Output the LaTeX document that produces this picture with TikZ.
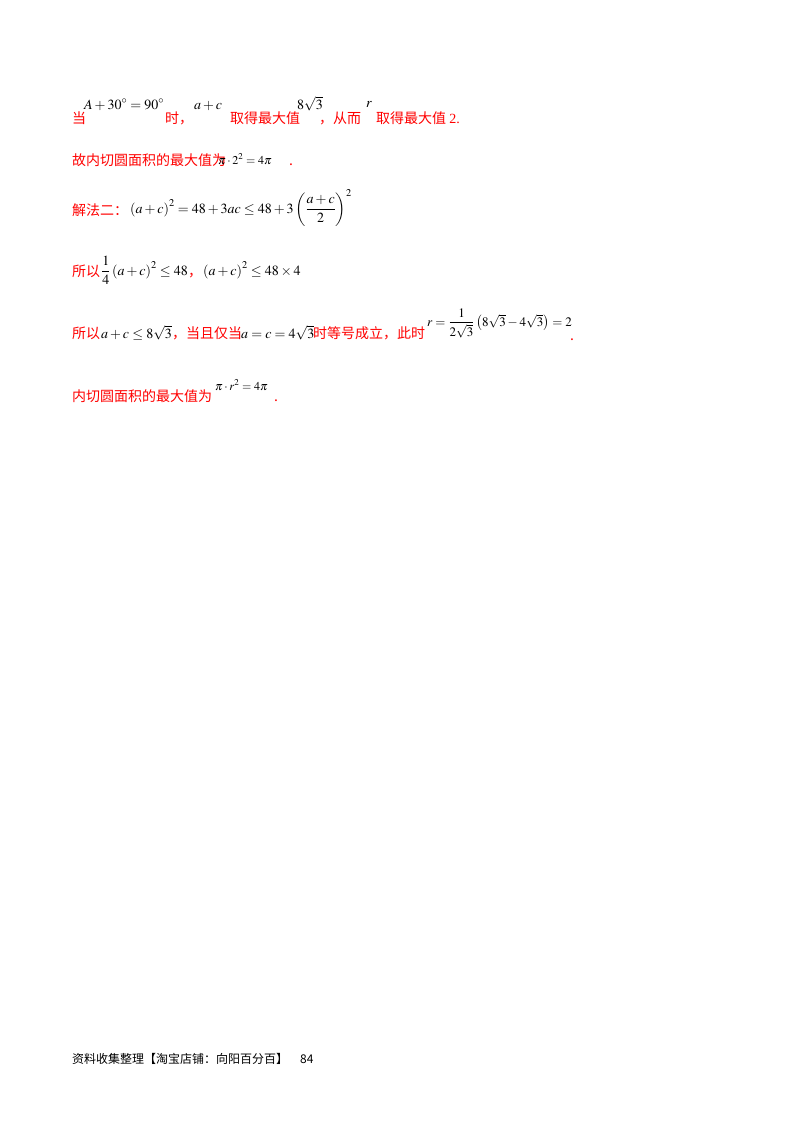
\documentclass[tikz,border=0pt]{standalone}
\usepackage{amsmath}
\usepackage{fontspec}
\usepackage{mathptmx}
\setmainfont{Liberation Serif}
\newfontfamily\cjk{Noto Sans CJK SC}
\definecolor{rd}{HTML}{FF0000}
\begin{document}
\begin{tikzpicture}[x=1pt,y=-1pt,
  t/.style={anchor=base west,inner sep=0pt,text=rd,font=\cjk\fontsize{14}{14}\selectfont},
  m/.style={anchor=base west,inner sep=0pt,font=\fontsize{14}{14}\selectfont}]
\useasboundingbox (0,0) rectangle (800,1132);
% line 1
\node[t] (a1) at (72,123) {当};
\node[m] (a2) at (84,109) {$A+30^\circ=90^\circ$};
\node[t] (a3) at (165,123) {时，};
\node[m] (a4) at (194,109) {$a+c$};
\node[t] (a5) at (230,123) {取得最大值};
\node[m] (a6) at (297,109) {$8\sqrt{3}$};
\node[t] (a7) at (319,123) {，从而};
\node[m] (a8) at (366,107) {$r$};
\node[t] (a9) at (376,123) {取得最大值 \fontspec{Liberation Serif}2.};
% line 2
\node[t] (b1) at (72,165) {故内切圆面积的最大值为};
\node[m] (b2) at (218,164) {\fontsize{12}{12}\selectfont$\pi\cdot2^2=4\pi$};
\node[t] (b3) at (289,165) {.};
% line 3
\node[t] (c1) at (72,215) {解法二：};
\node[m] (c2) at (130,213) {$\left(a+c\right)^2=48+3ac\le48+3\left(\dfrac{a+c}{2}\right)^2$};
% line 4
\node[t] (d1) at (72,276) {所以};
\node[m] (d2) at (101,275) {$\dfrac14\left(a+c\right)^2\le48$};
\node[t] (d3) at (188,276) {，};
\node[m] (d4) at (203,275) {$\left(a+c\right)^2\le48\times4$};
% line 5
\node[t] (e1) at (72,338) {所以};
\node[m] (e2) at (101,338) {$a+c\le8\sqrt3$};
\node[t] (e3) at (172,338) {，当且仅当};
\node[m] (e4) at (241,338) {$a=c=4\sqrt3$};
\node[t] (e5) at (313,338) {时等号成立，此时};
\node[m] (e6) at (427,326) {\fontsize{13}{13}\selectfont$r=\dfrac{1}{2\sqrt3}\left(8\sqrt3-4\sqrt3\right)=2$};
\node[t] (e7) at (570,340) {.};
% line 6
\node[t] (f1) at (72,401) {内切圆面积的最大值为};
\node[m] (f2) at (215,390) {\fontsize{12}{12}\selectfont$\pi\cdot r^2=4\pi$};
\node[t] (f3) at (274,401) {.};
% footer
\node[anchor=base west,inner sep=0pt,font=\cjk\fontsize{12}{12}\selectfont] (g) at (72,1063) {资料收集整理【淘宝店铺：向阳百分百】\quad 84};
\end{tikzpicture}
\end{document}
